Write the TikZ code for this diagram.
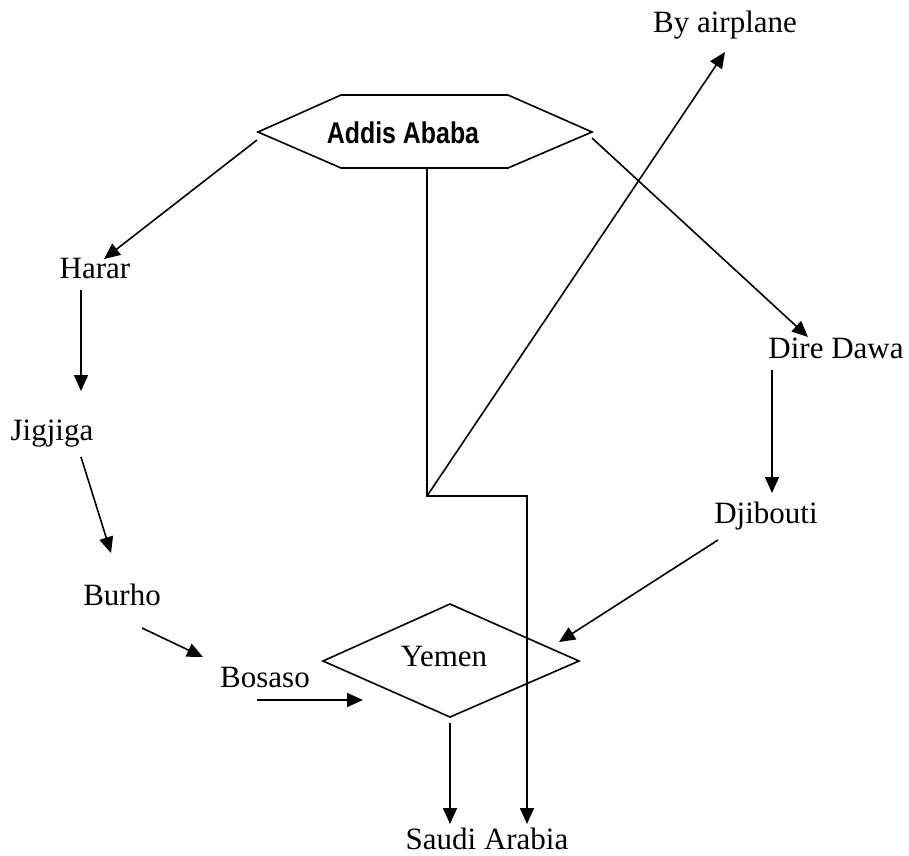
\documentclass[tikz,border=0pt]{standalone}
\usepackage{fontspec}
\setmainfont{Liberation Serif}
\newfontfamily\hexfont[FakeStretch=0.83]{Liberation Sans}
\usetikzlibrary{arrows.meta}
\usetikzlibrary{positioning}

\begin{document}
\begin{tikzpicture}[x=1pt,y=-1pt]
  \tikzset{place/.style={anchor=base,inner sep=0pt,font=\fontsize{31}{37}\selectfont},
           route/.style={-{Triangle[length=16pt,width=14pt]},line width=1.6pt},
           outline/.style={line width=1.6pt,line join=miter}}
  \useasboundingbox (0,0) rectangle (909,855);

  % hexagon and diamond
  \coordinate (hexw) at (258,132);
  \coordinate (hexe) at (592,132);
  \draw[outline] (hexw) -- (341,95) -- (508,95) -- (hexe) -- (508,168) -- (341,168) -- cycle;
  \node[anchor=base,inner sep=0pt,font=\hexfont\bfseries\fontsize{30}{36}\selectfont]
     (addis) at (403,143) {Addis Ababa};
  \draw[outline] (323,661) -- (450,604) -- (579,661) -- (450,717) -- cycle;
  \node[place] (yemen) at (444,666) {Yemen};

  % cities
  \node[place] (harar) at (95,278) {Harar};
  \node[place] (jigjiga) at (52,440) {Jigjiga};
  \node[place] (burho) at (122,605) {Burho};
  \node[place] (bosaso) at (265,687) {Bosaso};
  \node[place] (diredawa) at (836,358) {Dire Dawa};
  \node[place] (djibouti) at (766,523) {Djibouti};
  \node[place] (saudi) at (487,849) {Saudi Arabia};
  \node[place] (air) at (725,32) {By airplane};

  % connector ends
  \coordinate (hexsw) at (257,140);
  \coordinate (hexse) at (592,138);
  \coordinate (hexs) at (427,168);
  \coordinate (turn) at (427,496);
  \coordinate (turn2) at (527,496);
  \coordinate (hararin) at (104,259);
  \coordinate (hararout) at (81,290);
  \coordinate (jigjigain) at (81,391);
  \coordinate (jigjigaout) at (81,457);
  \coordinate (burhoin) at (111,553);
  \coordinate (burhoout) at (142,628);
  \coordinate (bosasoin) at (203,657);
  \coordinate (bosasoout) at (257,700);
  \coordinate (yemenin) at (363,700);
  \coordinate (diredawain) at (808,337);
  \coordinate (diredawaout) at (772,370);
  \coordinate (djiboutiin) at (772,493);
  \coordinate (djiboutiout) at (718,540);
  \coordinate (yemenne) at (559,642);
  \coordinate (yemenout) at (450,723);
  \coordinate (saudil) at (450,824);
  \coordinate (saudir) at (527,824);
  \coordinate (airin) at (725,52);

  \draw[route] (hexsw) -- (hararin);
  \draw[route] (hararout) -- (jigjigain);
  \draw[route] (jigjigaout) -- (burhoin);
  \draw[route] (burhoout) -- (bosasoin);
  \draw[route] (bosasoout) -- (yemenin);
  \draw[route] (hexse) -- (diredawain);
  \draw[route] (diredawaout) -- (djiboutiin);
  \draw[route] (djiboutiout) -- (yemenne);
  \draw[route] (yemenout) -- (saudil);
  \draw[route,line join=miter] (hexs) -- (turn) -- (turn2) -- (saudir);
  \draw[route] (turn) -- (airin);
\end{tikzpicture}
\end{document}
